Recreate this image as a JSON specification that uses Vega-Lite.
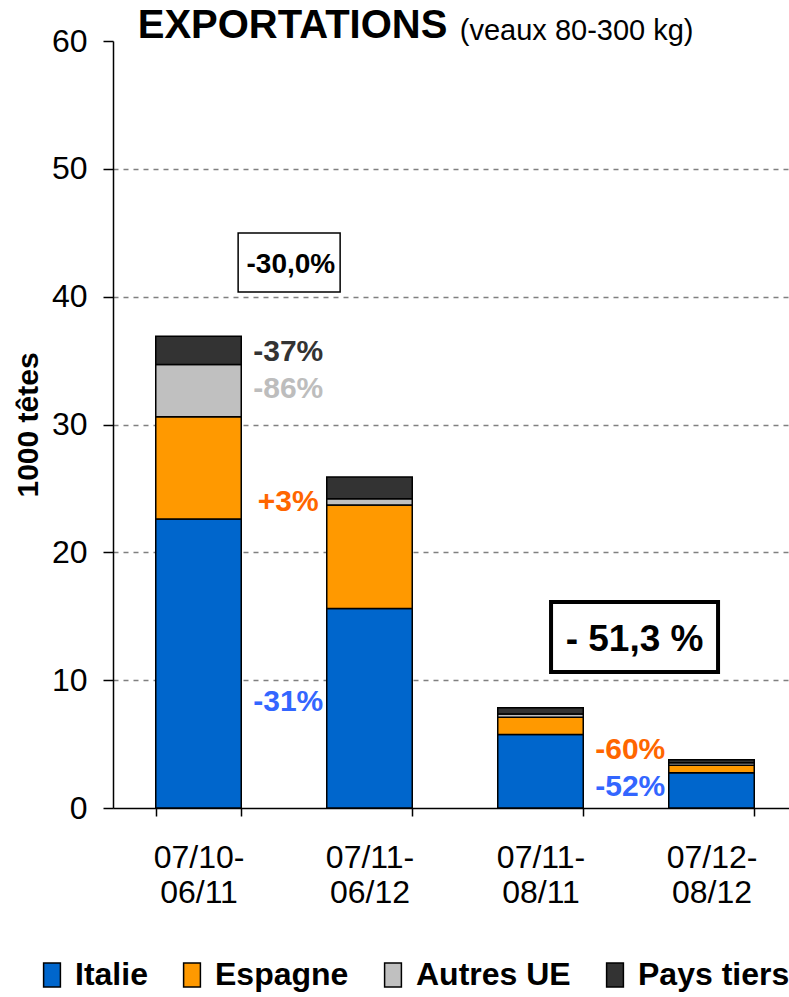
{
  "$schema": "https://vega.github.io/schema/vega-lite/v6.json",
  "width": 684,
  "height": 767,
  "autosize": {"type": "none"},
  "padding": {"left": 113, "top": 41, "right": 0, "bottom": 189},
  "background": "white",
  "config": {
    "font": "Liberation Sans",
    "view": {"stroke": null}
  },
  "resolve": {"scale": {"color": "independent"}},
  "layer": [
    {
      "data": {
        "values": [
          {"period": "07/10-06/11", "series": "Italie", "order": 1, "value": 22.6},
          {"period": "07/10-06/11", "series": "Espagne", "order": 2, "value": 8.0},
          {"period": "07/10-06/11", "series": "Autres UE", "order": 3, "value": 4.1},
          {"period": "07/10-06/11", "series": "Pays tiers", "order": 4, "value": 2.2},
          {"period": "07/11-06/12", "series": "Italie", "order": 1, "value": 15.6},
          {"period": "07/11-06/12", "series": "Espagne", "order": 2, "value": 8.1},
          {"period": "07/11-06/12", "series": "Autres UE", "order": 3, "value": 0.5},
          {"period": "07/11-06/12", "series": "Pays tiers", "order": 4, "value": 1.7},
          {"period": "07/11-08/11", "series": "Italie", "order": 1, "value": 5.75},
          {"period": "07/11-08/11", "series": "Espagne", "order": 2, "value": 1.35},
          {"period": "07/11-08/11", "series": "Autres UE", "order": 3, "value": 0.25},
          {"period": "07/11-08/11", "series": "Pays tiers", "order": 4, "value": 0.5},
          {"period": "07/12-08/12", "series": "Italie", "order": 1, "value": 2.75},
          {"period": "07/12-08/12", "series": "Espagne", "order": 2, "value": 0.6},
          {"period": "07/12-08/12", "series": "Autres UE", "order": 3, "value": 0.18},
          {"period": "07/12-08/12", "series": "Pays tiers", "order": 4, "value": 0.25}
        ]
      },
      "mark": {"type": "bar", "stroke": "black", "strokeWidth": 1.5},
      "encoding": {
        "x": {
          "field": "period",
          "type": "nominal",
          "sort": null,
          "scale": {
            "domain": ["07/10-06/11", "07/11-06/12", "07/11-08/11", "07/12-08/12"],
            "paddingInner": 0.5,
            "paddingOuter": 0.25
          },
          "axis": {
            "title": null,
            "labelAngle": 0,
            "labelExpr": "[slice(datum.label, 0, 6), slice(datum.label, 6)]",
            "labelFontSize": 32,
            "labelColor": "black",
            "labelLineHeight": 35,
            "labelPadding": 26,
            "labelBaseline": "top",
            "tickBand": "extent",
            "tickSize": 8,
            "tickColor": "black",
            "tickWidth": 1.5,
            "domainColor": "black",
            "domainWidth": 1.5,
            "grid": false
          }
        },
        "y": {
          "field": "value",
          "type": "quantitative",
          "stack": "zero",
          "scale": {"domain": [0, 60], "nice": false},
          "axis": {
            "title": "1000 têtes",
            "titleFontSize": 30,
            "titleFontWeight": "bold",
            "titleColor": "black",
            "titlePadding": 8,
            "values": [0, 10, 20, 30, 40, 50, 60],
            "labelFontSize": 32,
            "labelColor": "black",
            "labelPadding": 16,
            "tickSize": 10,
            "tickColor": "black",
            "tickWidth": 1.5,
            "domainColor": "black",
            "domainWidth": 1.5,
            "grid": true,
            "gridColor": "#808080",
            "gridDash": [5, 5],
            "gridWidth": 1.5,
            "gridOpacity": {"condition": {"test": "datum.value === 60 || datum.value === 0", "value": 0}, "value": 1}
          }
        },
        "color": {
          "field": "series",
          "type": "nominal",
          "scale": {
            "domain": ["Italie", "Espagne", "Autres UE", "Pays tiers"],
            "range": ["#0066CC", "#FF9900", "#C0C0C0", "#333333"]
          },
          "legend": {
            "orient": "none",
            "direction": "horizontal",
            "legendX": -77,
            "legendY": 918,
            "title": null,
            "symbolType": "M-0.7,-1H0.7V1H-0.7Z",
            "symbolSize": 576,
            "symbolStrokeColor": "black",
            "symbolStrokeWidth": 1.5,
            "labelFontSize": 32,
            "labelFontWeight": "bold",
            "labelColor": "black",
            "labelOffset": 7,
            "columnPadding": 28,
            "labelLimit": 0
          }
        },
        "order": {"field": "order", "type": "quantitative"}
      }
    },
    {
      "data": {"values": [{"period": "07/10-06/11", "value": 42.68}]},
      "mark": {"type": "point", "shape": "M-1,-0.578H1V0.578H-1Z", "size": 10404, "filled": true, "fill": "white", "stroke": "black", "strokeWidth": 1.5, "opacity": 1},
      "encoding": {
        "x": {"field": "period", "type": "nominal", "sort": null, "bandPosition": 1.56},
        "y": {"field": "value", "type": "quantitative", "stack": null}
      }
    },
    {
      "data": {"values": [{"period": "07/11-08/11", "value": 13.38}]},
      "mark": {"type": "point", "shape": "M-1,-0.419H1V0.419H-1Z", "size": 27889, "filled": true, "fill": "white", "stroke": "black", "strokeWidth": 4, "opacity": 1},
      "encoding": {
        "x": {"field": "period", "type": "nominal", "sort": null, "bandPosition": 1.6},
        "y": {"field": "value", "type": "quantitative", "stack": null}
      }
    },
    {
      "data": {
        "values": [
          {"period": "07/10-06/11", "value": 42.48, "label": "-30,0%"}
        ]
      },
      "mark": {"type": "text", "fontSize": 28, "fontWeight": "bold", "color": "black", "baseline": "middle", "align": "center"},
      "encoding": {
        "x": {"field": "period", "type": "nominal", "sort": null, "bandPosition": 1.58},
        "y": {"field": "value", "type": "quantitative", "stack": null},
        "text": {"field": "label"}
      }
    },
    {
      "data": {
        "values": [
          {"period": "07/11-08/11", "value": 13.14, "label": "- 51,3 %"}
        ]
      },
      "mark": {"type": "text", "fontSize": 37, "fontWeight": "bold", "color": "black", "baseline": "middle", "align": "center"},
      "encoding": {
        "x": {"field": "period", "type": "nominal", "sort": null, "bandPosition": 1.6},
        "y": {"field": "value", "type": "quantitative", "stack": null},
        "text": {"field": "label"}
      }
    },
    {
      "data": {
        "values": [
          {"period": "07/10-06/11", "value": 35.67, "label": "-37%", "series": "Pays tiers"},
          {"period": "07/10-06/11", "value": 32.78, "label": "-86%", "series": "Autres UE"},
          {"period": "07/10-06/11", "value": 23.94, "label": "+3%", "series": "Espagne"},
          {"period": "07/10-06/11", "value": 8.29, "label": "-31%", "series": "Italie"},
          {"period": "07/11-08/11", "value": 4.54, "label": "-60%", "series": "Espagne"},
          {"period": "07/11-08/11", "value": 1.64, "label": "-52%", "series": "Italie"}
        ]
      },
      "mark": {"type": "text", "fontSize": 30, "fontWeight": "bold", "baseline": "middle", "align": "center"},
      "encoding": {
        "x": {"field": "period", "type": "nominal", "sort": null, "bandPosition": 1.55},
        "y": {"field": "value", "type": "quantitative", "stack": null},
        "text": {"field": "label"},
        "color": {
          "field": "series",
          "type": "nominal",
          "scale": {
            "domain": ["Italie", "Espagne", "Autres UE", "Pays tiers"],
            "range": ["#3366FF", "#FF6600", "#BDBDBD", "#333333"]
          },
          "legend": null
        }
      }
    },
    {
      "data": {"values": [{"period": "07/10-06/11", "value": 60, "label": "EXPORTATIONS"}]},
      "mark": {"type": "text", "fontSize": 40, "fontWeight": "bold", "color": "black", "baseline": "alphabetic", "align": "center", "dy": -3},
      "encoding": {
        "x": {"field": "period", "type": "nominal", "sort": null, "bandPosition": 1.6},
        "y": {"field": "value", "type": "quantitative", "stack": null},
        "text": {"field": "label"}
      }
    },
    {
      "data": {"values": [{"period": "07/11-06/12", "value": 60, "label": "(veaux 80-300 kg)"}]},
      "mark": {"type": "text", "fontSize": 29, "color": "black", "baseline": "alphabetic", "align": "left", "dy": -1},
      "encoding": {
        "x": {"field": "period", "type": "nominal", "sort": null, "bandPosition": 1.556},
        "y": {"field": "value", "type": "quantitative", "stack": null},
        "text": {"field": "label"}
      }
    }
  ]
}
